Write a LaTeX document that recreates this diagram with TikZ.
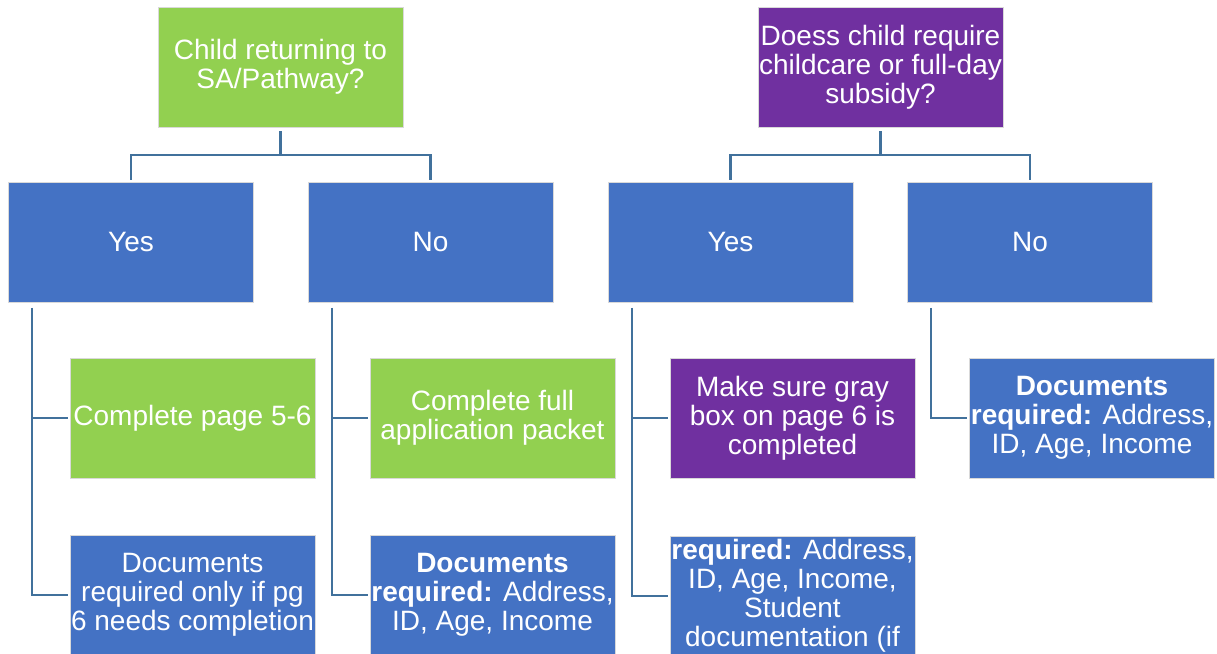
\documentclass[tikz,border=0pt]{standalone}
\usepackage{fontspec}
\setmainfont{Liberation Sans}
\usepackage{xcolor}
\definecolor{pathGreen}{HTML}{92D050}
\definecolor{pathBlue}{HTML}{4472C4}
\definecolor{pathPurple}{HTML}{7030A0}
\definecolor{pathLine}{HTML}{41719C}
\usetikzlibrary{positioning, calc}

\begin{document}
\begin{tikzpicture}[x=1pt, y=-1pt,
  box/.style={draw=white!85!black, line width=0.6pt, minimum width=245pt,
    minimum height=120pt, inner sep=0pt, align=center, text=white,
    font=\fontsize{28}{29}\selectfont},
  greenbox/.style={box, fill=pathGreen},
  bluebox/.style={box, fill=pathBlue},
  purplebox/.style={box, fill=pathPurple},
  branch/.style={draw=pathLine, line width=2.2pt, shorten <=4pt, shorten >=2pt},
  elbow/.style={draw=pathLine, line width=2.2pt, shorten <=5pt, shorten >=2pt}
]
  \clip (0,0) rectangle (1217,653);

  % Questions
  \node[greenbox] (q1) at (280.5,67) {Child returning to\\SA/Pathway?};
  \node[purplebox] (q2) at (880.5,67) {Doess child require\\childcare or full-day\\subsidy?};

  % Answers
  \node[bluebox] (q1yes) at (131,242.5) {Yes};
  \node[bluebox] (q1no) at (430.5,242.5) {No};
  \node[bluebox] (q2yes) at (730.5,242.5) {Yes};
  \node[bluebox] (q2no) at (1030,242.5) {No};

  % Steps
  \node[greenbox] (c1) at (192.5,418) {Complete page 5-6};
  \node[bluebox] (d1) at (192.5,595) {Documents\\required only if pg\\6 needs completion};
  \node[greenbox] (c2) at (492.5,418) {Complete full\\application packet};
  \node[bluebox] (d2) at (492.5,595) {\textbf{Documents}\\\textbf{required:} Address,\\ID, Age, Income};
  \node[purplebox] (c3) at (792.5,418) {Make sure gray\\box on page 6 is\\completed};
  \node[bluebox] (d3) at (792.5,596) {\textbf{required:} Address,\\ID, Age, Income,\\Student\\documentation (if};
  \node[bluebox] (c4) at (1092,418) {\textbf{Documents}\\\textbf{required:} Address,\\ID, Age, Income};

  % Branches
  \draw[branch] (q1.south) -- ++(0,27.5) -| (q1yes.north);
  \draw[branch] (q1.south) -- ++(0,27.5) -| (q1no.north);
  \draw[branch] (q2.south) -- ++(0,27.5) -| (q2yes.north);
  \draw[branch] (q2.south) -- ++(0,27.5) -| (q2no.north);

  % Children
  \draw[elbow] ([xshift=24pt]q1yes.south west) |- (c1.west);
  \draw[elbow] ([xshift=24pt]q1yes.south west) |- (d1.west);
  \draw[elbow] ([xshift=24pt]q1no.south west) |- (c2.west);
  \draw[elbow] ([xshift=24pt]q1no.south west) |- (d2.west);
  \draw[elbow] ([xshift=24pt]q2yes.south west) |- (c3.west);
  \draw[elbow] ([xshift=24pt]q2yes.south west) |- (d3.west);
  \draw[elbow] ([xshift=24pt]q2no.south west) |- (c4.west);
\end{tikzpicture}
\end{document}
